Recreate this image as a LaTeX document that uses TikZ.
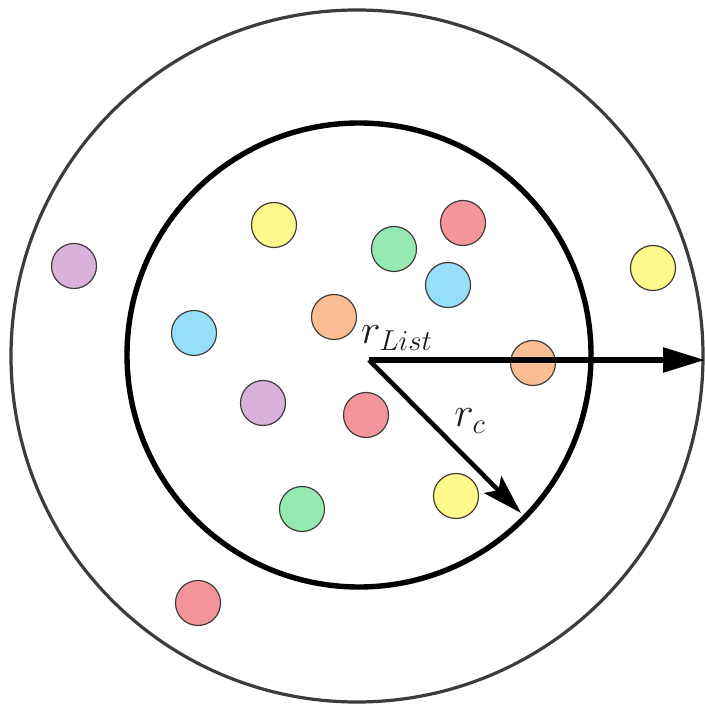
\documentclass[tikz,border=0pt]{standalone}
\usepackage{amsmath}
\usepackage{tikz}
\usetikzlibrary{arrows.meta}
\definecolor{ink}{HTML}{1E1A16}
\definecolor{ringcol}{HTML}{3C3C3C}
\definecolor{dotyel}{HTML}{FFF98C}
\definecolor{dotred}{HTML}{F4959B}
\definecolor{dotgrn}{HTML}{95E9B1}
\definecolor{dotblu}{HTML}{97DEFA}
\definecolor{dotpur}{HTML}{DAB1DA}
\definecolor{dotorg}{HTML}{FBBE94}

\begin{document}
\begin{tikzpicture}[
  x=0.5pt, y=-0.5pt, line join=round,
  ptcl/.style={circle, draw=ink!85, line width=0.6pt, minimum size=22.5pt,
               inner sep=0pt},
  rad/.style={black, line width=2.8pt},
  lbl/.style={ink, font=\huge, inner sep=1pt}]

\useasboundingbox (0,0) rectangle (705,704);

% ================================================================ shells
\draw[ringcol, line width=1.6pt] (357,356) circle[radius=173pt];
\draw[black, line width=2.7pt] (359,355) circle[radius=116pt];

% ================================================================ particles
\foreach \px/\py/\col [count=\i] in {
    274/225/dotyel, 463/223/dotred, 394/249/dotgrn, 448/285/dotblu,
    74/266/dotpur, 653/268/dotyel, 334/317/dotorg, 194/333/dotblu,
    533/363/dotorg, 263/403/dotpur, 366/415/dotred, 302/509/dotgrn,
    456/496/dotyel, 198/603/dotred}
  \node[ptcl, fill=\col] (p\i) at (\px,\py) {};

% ================================================================ radii
\coordinate (ctr) at (369,360);
\coordinate (tipList) at (705,360);
\coordinate (tipC) at (521,513);

\draw[rad, -{Triangle[length=21pt, width=12pt]}] (ctr) -- (tipList);
\draw[rad, line width=2.3pt, -{Stealth[length=20pt, width=12pt, inset=4pt]}]
  (ctr) -- (tipC);

\node[lbl] (lList) at (397,338) {$r_{List}$};
\node[lbl] (lC) at (470,421) {$r_c$};

\end{tikzpicture}
\end{document}
